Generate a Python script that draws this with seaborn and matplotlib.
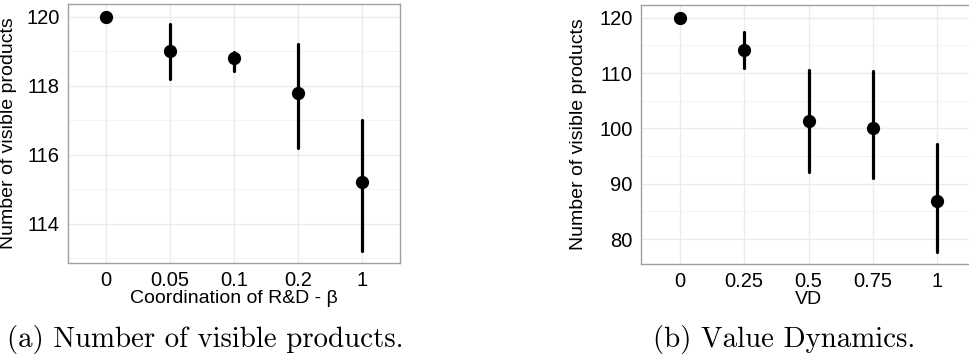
import numpy as np
import pandas as pd
import matplotlib
matplotlib.use("Agg")
import matplotlib.pyplot as plt
from matplotlib.ticker import MultipleLocator
import seaborn as sns

# ---- data ----
beta_levels = ["0", "0.05", "0.1", "0.2", "1"]
beta_mean = [120.0, 119.0, 118.8, 117.8, 115.2]
beta_low = [120.0, 118.2, 118.43, 116.2, 113.2]
beta_high = [120.0, 119.8, 118.97, 119.2, 117.0]

vd_levels = ["0", "0.25", "0.5", "0.75", "1"]
vd_mean = [120.0, 114.2, 101.4, 100.0, 86.8]
vd_low = [120.0, 110.9, 92.2, 91.0, 77.7]
vd_high = [120.0, 117.4, 110.6, 110.3, 97.2]

caption_a = "(a) Number of visible products."
caption_b = "(b) Value Dynamics."


def long_frame(levels, lo, mid, hi):
    rows = []
    for lev, a, m, b in zip(levels, lo, mid, hi):
        for v in (a, m, b):
            rows.append({"x": lev, "y": v})
    return pd.DataFrame(rows)


sns.set_theme(style="white")
plt.rcParams["font.family"] = ["Liberation Sans", "DejaVu Sans"]
plt.rcParams["text.color"] = "black"
plt.rcParams["axes.labelcolor"] = "black"

W, H = 969, 361
fig = plt.figure(figsize=(W / 100, H / 100), dpi=100)


def panel(rect, levels, lo, mid, hi, xlabel, ylim, major, minor, ylabel_x):
    l, t, r, b = rect
    ax = fig.add_axes([l / W, 1 - b / H, (r - l) / W, (b - t) / H])
    df = long_frame(levels, lo, mid, hi)
    sns.pointplot(data=df, x="x", y="y", order=levels, estimator=np.median,
                  errorbar=("pi", 100), linestyle="none", color="black",
                  markersize=7.5, err_kws={"linewidth": 2.3}, ax=ax)
    ax.set_xlim(-0.6, len(levels) - 0.4)
    ax.set_ylim(*ylim)
    ax.yaxis.set_major_locator(MultipleLocator(major))
    ax.yaxis.set_minor_locator(MultipleLocator(minor))
    ax.grid(True, which="major", color="#ebebeb", linewidth=1.0)
    ax.grid(True, which="minor", axis="y", color="#f3f3f3", linewidth=0.6)
    ax.set_axisbelow(True)
    for s in ax.spines.values():
        s.set_color("#a0a0a0")
        s.set_linewidth(1.0)
    ax.tick_params(axis="both", which="major", length=3, width=0.8,
                   color="#555555", labelsize=14.5, labelcolor="black", pad=3)
    ax.tick_params(axis="both", which="minor", length=0)
    ax.set_xlabel(xlabel, fontsize=14, labelpad=0, color="black")
    ax.set_ylabel("Number of visible products", fontsize=14, color="black")
    ax.yaxis.set_label_coords((ylabel_x - l) / (r - l), 0.5)
    return ax


panel((68, 4, 400, 263), beta_levels, beta_low, beta_mean, beta_high,
      "Coordination of R&D - β", (112.86, 120.37), 2, 1, 17)
panel((641, 5, 976, 264), vd_levels, vd_low, vd_mean, vd_high,
      "VD", (75.5, 122.3), 10, 5, 587)

fig.text(205 / W, 1 - 340 / H, caption_a, ha="center", va="center",
         family="cmr10", fontsize=20.8, color="black")
fig.text(784 / W, 1 - 340 / H, caption_b, ha="center", va="center",
         family="cmr10", fontsize=20.8, color="black")

fig.savefig("out.png", dpi=100)
